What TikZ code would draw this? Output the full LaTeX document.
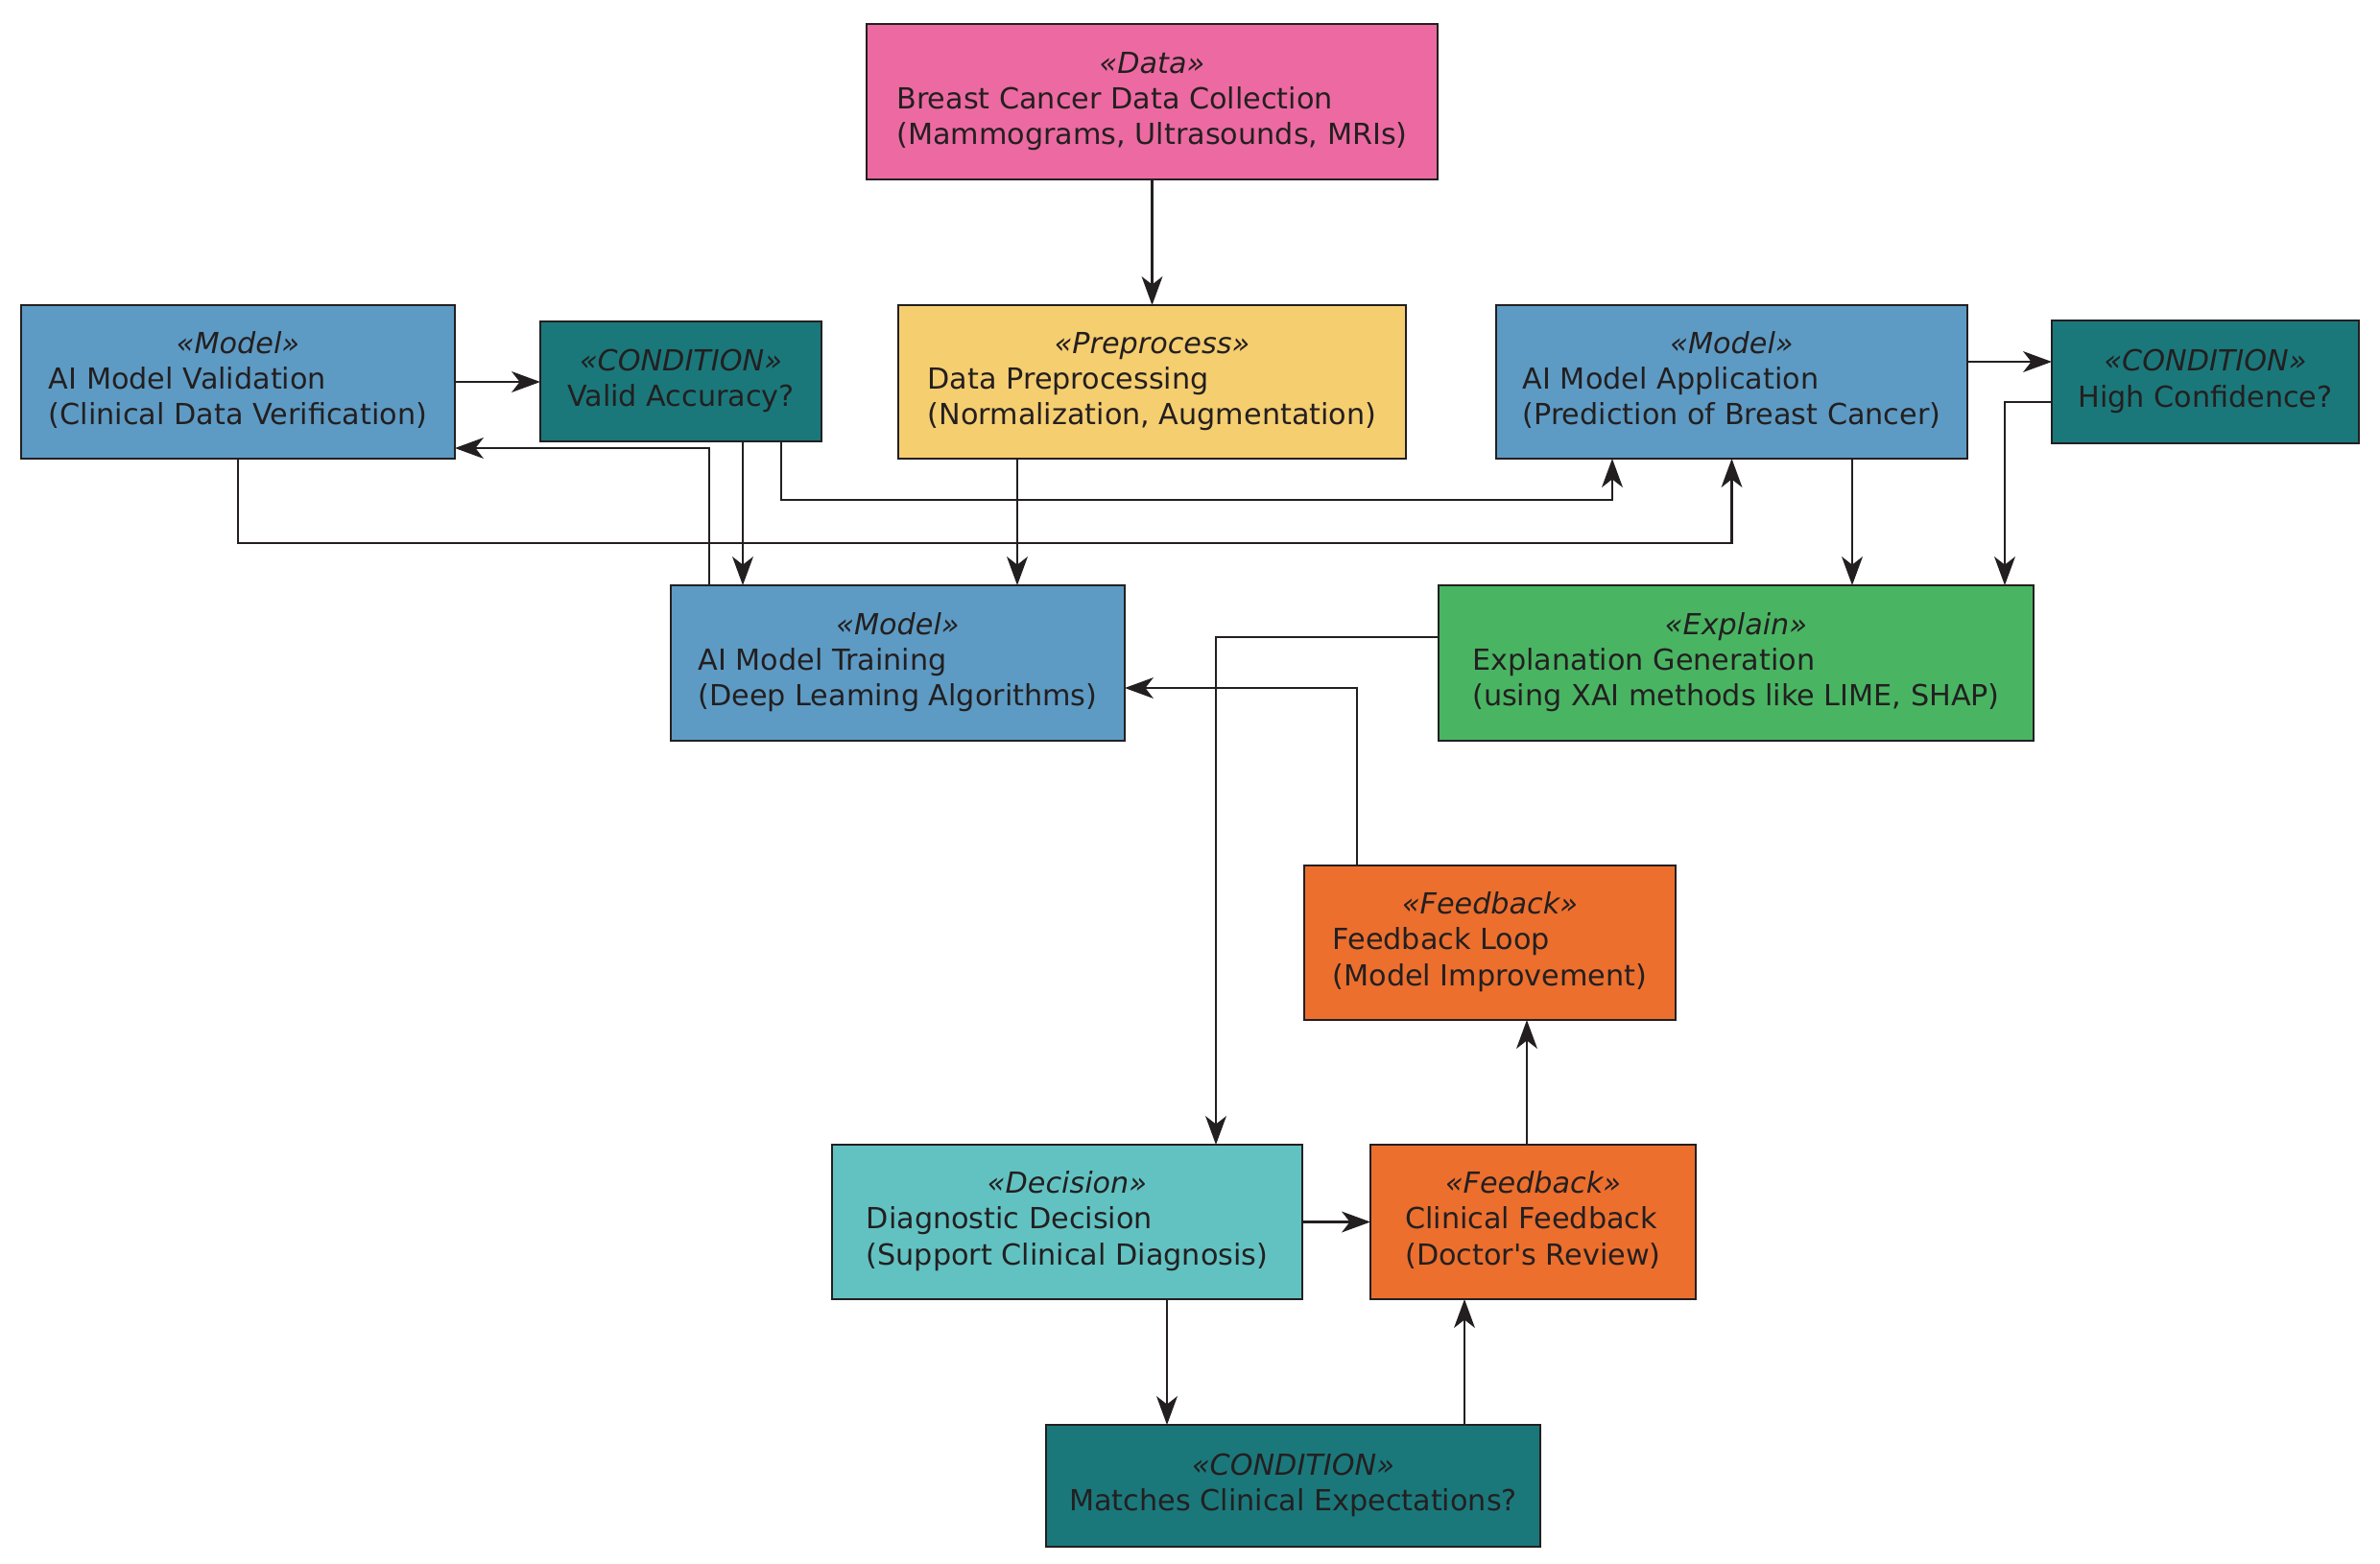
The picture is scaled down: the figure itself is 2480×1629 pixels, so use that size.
\documentclass[tikz,border=0pt]{standalone}
\usepackage{fontspec}
\setmainfont{DejaVu Sans}
\usetikzlibrary{arrows.meta,positioning}
\definecolor{ink}{HTML}{231F20}
\definecolor{datapink}{HTML}{EC6AA1}
\definecolor{modelblue}{HTML}{5D9BC4}
\definecolor{condteal}{HTML}{1A787B}
\definecolor{prepyellow}{HTML}{F5CE70}
\definecolor{explgreen}{HTML}{49B563}
\definecolor{fborange}{HTML}{EC6F2E}
\definecolor{deccyan}{HTML}{62C2C2}
\tikzset{font=\fontsize{8.6}{10.6}\selectfont}
\tikzset{every node/.append style={text=ink}}
\newcommand{\boxtext}[3]{\raisebox{-0.8pt}{\begin{tabular}{@{}l@{}}\multicolumn{1}{@{}c@{}}{\itshape «#1»}\\#2\\#3\end{tabular}}}
\newcommand{\condtext}[2]{\raisebox{-0.8pt}{\begin{tabular}{@{}c@{}}{\itshape «#1»}\\#2\end{tabular}}}

\begin{document}
\begin{tikzpicture}[x=0.01cm,y=-0.01cm,
  box/.style 2 args={draw=ink, line width=0.8pt, inner sep=0pt, outer sep=0pt,
    minimum width={#1*0.01cm}, minimum height={#2*0.01cm}},
  arr/.style={draw=ink, line width=0.6pt, -{Stealth[length=8.5pt,width=6.2pt,inset=2.4pt]}}]
  \useasboundingbox (0,0) rectangle (2480,1629);

  \node[box={595}{162}, fill=datapink] (data) at (1200.5,106)
  {\boxtext{Data}{Breast Cancer Data Collection}{(Mammograms, Ultrasounds, MRIs)}};
  \node[box={452}{160}, fill=modelblue] (valid) at (248,398)
  {\boxtext{Model}{AI Model Validation}{(Clinical Data Verification)}};
  \node[box={293}{125}, fill=condteal] (cond1) at (709.5,397.5)
  {\condtext{CONDITION}{Valid Accuracy?}};
  \node[box={529}{160}, fill=prepyellow] (prep) at (1200.5,398)
  {\boxtext{Preprocess}{Data Preprocessing}{(Normalization, Augmentation)}};
  \node[box={491}{160}, fill=modelblue] (appl) at (1804.5,398)
  {\boxtext{Model}{AI Model Application}{(Prediction of Breast Cancer)}};
  \node[box={320}{128}, fill=condteal] (cond2) at (2298,398)
  {\condtext{CONDITION}{High Confidence?}};
  \node[box={473}{162}, fill=modelblue] (train) at (935.5,691)
  {\boxtext{Model}{AI Model Training}{(Deep Leaming Algorithms)}};
  \node[box={620}{162}, fill=explgreen] (expl) at (1809,691)
  {\boxtext{Explain}{Explanation Generation}{(using XAI methods like LIME, SHAP)}};
  \node[box={387}{161}, fill=fborange] (loop) at (1552.5,982.5)
  {\boxtext{Feedback}{Feedback Loop}{(Model Improvement)}};
  \node[box={490}{161}, fill=deccyan] (dec) at (1112,1273.5)
  {\boxtext{Decision}{Diagnostic Decision}{(Support Clinical Diagnosis)}};
  \node[box={339}{161}, fill=fborange] (clin) at (1597.5,1273.5)
  {\boxtext{Feedback}{Clinical Feedback}{(Doctor\textquotesingle s Review)}};
  \node[box={515}{127}, fill=condteal] (cond3) at (1347.5,1548.5)
  {\condtext{CONDITION}{Matches Clinical Expectations?}};

  % upper part
  \draw[arr] (data) -- (prep);
  \draw[arr] (valid.east) -- (cond1.west |- valid.east);
  \draw[arr] (774,0 |- cond1.south) -- (774,0 |- train.north);
  \draw[arr] (814,0 |- cond1.south) |- (1680,521) -- (1680,0 |- appl.south);
  \draw[arr] (739,0 |- train.north) |- (valid.east |- 0,467);
  \draw[arr] (valid.south) |- (appl.south |- 0,566) -- (appl.south);
  \draw[arr] (1060,0 |- prep.south) -- (1060,0 |- train.north);
  \draw[arr] (appl.east |- 0,377) -- (cond2.west |- 0,377);
  \draw[arr] (1930,0 |- appl.south) -- (1930,0 |- expl.north);
  \draw[arr] (cond2.west |- 0,419) -| (2089,0 |- expl.north);

  % lower part
  \draw[arr, line width=0.4pt] (expl.west |- 0,664) -| (1267,0 |- dec.north);
  \draw[arr, line width=0.4pt] (1414,0 |- loop.north) |- (train.east |- 0,717);
  \draw[arr] (dec.east) -- (clin.west);
  \draw[arr] (1216,0 |- dec.south) -- (1216,0 |- cond3.north);
  \draw[arr] (1526,0 |- cond3.north) -- (1526,0 |- clin.south);
  \draw[arr] (1591,0 |- clin.north) -- (1591,0 |- loop.south);
\end{tikzpicture}
\end{document}
